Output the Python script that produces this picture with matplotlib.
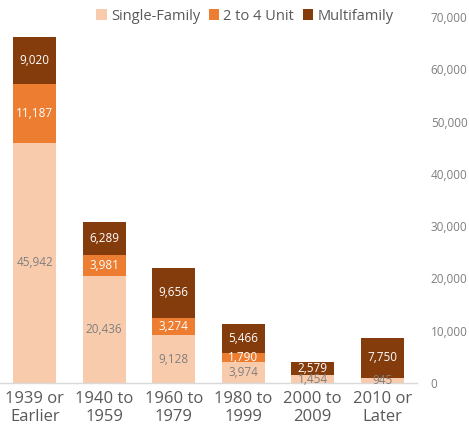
import matplotlib
matplotlib.use("Agg")
import matplotlib.pyplot as plt
import numpy as np

plt.rcParams['font.family'] = ['Open Sans', 'DejaVu Sans']

categories = ["1939 or\nEarlier", "1940 to\n1959", "1960 to\n1979", "1980 to\n1999", "2000 to\n2009", "2010 or\nLater"]
single_family = [45942, 20436, 9128, 3974, 1454, 945]
two_to_four = [11187, 3981, 3274, 1790, 0, 0]
multifamily = [9020, 6289, 9656, 5466, 2579, 7750]
series_names = ["Single-Family", "2 to 4 Unit", "Multifamily"]
yticks = [0, 10000, 20000, 30000, 40000, 50000, 60000, 70000]

colors = ["#F8CBAD", "#ED7D31", "#843C0C"]
label_colors = ["#7F7F7F", "white", "white"]

fig = plt.figure(figsize=(4.69, 4.32), dpi=100)
ax = fig.add_axes([0.0, 0.1134, 0.889, 0.8472])

x = np.arange(len(categories))
bottom = np.zeros(len(categories))
width = 0.62
for vals, col, lc, name in zip([single_family, two_to_four, multifamily], colors, label_colors, series_names):
    vals = np.array(vals, dtype=float)
    ax.bar(x, vals, width, bottom=bottom, color=col, label=name, zorder=2)
    for xi, v, b in zip(x, vals, bottom):
        if v > 0:
            ax.text(xi, b + v / 2, f"{int(v):,}", ha="center", va="center",
                    color=lc, fontsize=8.5, zorder=3)
    bottom += vals

ax.set_xlim(-0.5, len(categories) - 0.5)
ax.set_ylim(0, 70000)
ax.set_xticks(x)
ax.set_xticklabels(categories, fontsize=12, color="#595959", linespacing=1.1)
ax.yaxis.tick_right()
ax.set_yticks(yticks)
ax.set_yticklabels([f"{t:,}" for t in yticks], fontsize=8.5, color="#7F7F7F")
ax.tick_params(axis="both", length=0)
ax.tick_params(axis="y", pad=10)
ax.tick_params(axis="x", pad=6)
for s in ["top", "left", "right"]:
    ax.spines[s].set_visible(False)
ax.spines["bottom"].set_color("#D9D9D9")
ax.spines["bottom"].set_linewidth(1)

fig.legend(loc="center", bbox_to_anchor=(245 / 469, 1 - 16 / 432), ncol=3, frameon=False,
           fontsize=10.5, handlelength=0.7, handleheight=0.7, handletextpad=0.3,
           columnspacing=0.6, labelcolor="#595959")

fig.savefig("out.png", dpi=100)
